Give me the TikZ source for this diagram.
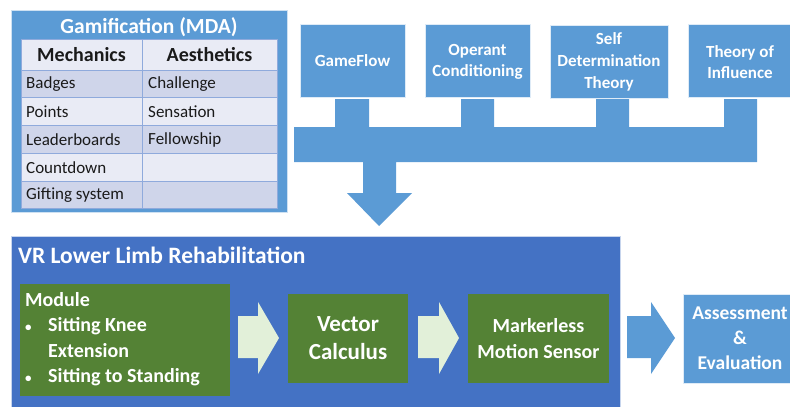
\documentclass[tikz,border=0pt]{standalone}
\usepackage{fontspec}
\setmainfont{Carlito}
\definecolor{lblue}{HTML}{5B9BD5}
\definecolor{dblue}{HTML}{4472C4}
\definecolor{vgreen}{HTML}{548235}
\definecolor{lgreen}{HTML}{E2F0D9}
\definecolor{rowdark}{HTML}{CFD5EA}
\definecolor{rowlight}{HTML}{E9EBF5}
\definecolor{gridc}{HTML}{8FAADC}
\definecolor{txt}{HTML}{1A1A1A}
\newcommand{\smallbul}{{\fontsize{13}{13}\selectfont\textbullet}}
\begin{document}
\begin{tikzpicture}[x=1pt,y=-1pt,
  bluebox/.style={draw=white!80!lblue,line width=0.6pt,fill=lblue,text=white,font=\bfseries\fontsize{17}{22}\selectfont,align=center,inner sep=0pt},
  greenbox/.style={fill=vgreen,text=white,font=\bfseries\fontsize{20}{26}\selectfont,align=center,inner sep=0pt},
  celltxt/.style={anchor=west,text=txt,font=\fontsize{17}{20}\selectfont,inner sep=0pt},
  headtxt/.style={text=txt,font=\bfseries\fontsize{20}{22}\selectfont,inner sep=0pt}
]
\useasboundingbox (0,0) rectangle (790,407);
\clip (0,0) rectangle (790,407);
% Gamification panel
\node[fill=lblue,draw=white!70!lblue,line width=0.6pt,minimum width=276pt,minimum height=202pt,inner sep=0pt] (gam) at (149,111) {};
\node[text=white,font=\bfseries\fontsize{21.5}{22}\selectfont,inner sep=0pt] (gamt) at (149,27) {Gamification (MDA)};
% table rows
\foreach \ya/\yb/\c in {39/70/rowlight,70/97/rowdark,97/125/rowlight,125/153/rowdark,153/181/rowlight,181/208/rowdark}{
  \fill[\c] (21,\ya) rectangle (277,\yb);
  \draw[gridc,line width=1pt] (21,\ya) rectangle (142,\yb);
  \draw[gridc,line width=1pt] (142,\ya) rectangle (277,\yb);
}
\node[headtxt] (h1) at (81.5,55) {Mechanics};
\node[headtxt] (h2) at (209.5,55) {Aesthetics};
\node[celltxt] (m1) at (26,84) {Badges};
\node[celltxt] (m2) at (26,112) {Points};
\node[celltxt] (m3) at (26,140) {Leaderboards};
\node[celltxt] (m4) at (26,167.5) {Countdown};
\node[celltxt] (m5) at (26,195) {Gifting system};
\node[celltxt] (a1) at (148,84) {Challenge};
\node[celltxt] (a2) at (148,112) {Sensation};
\node[celltxt] (a3) at (148,140) {Fellowship};
% Theory boxes
\node[bluebox,minimum width=105pt,minimum height=73pt] (gf) at (352.5,60.5) {GameFlow};
\node[bluebox,minimum width=105pt,minimum height=73pt] (oc) at (477.5,60.5) {};
\node[text=white,font=\bfseries\fontsize{17}{21}\selectfont,align=center,inner sep=0pt] (oct) at (477.5,62) {Operant\\Conditioning};
\node[bluebox,minimum width=118pt,minimum height=73pt] (sdt) at (609,61.5) {Self\\Determination\\Theory};
\node[bluebox,minimum width=104pt,minimum height=73pt] (ti) at (740,60.5) {};
\node[text=white,font=\bfseries\fontsize{17}{21}\selectfont,align=center,inner sep=0pt] (tit) at (740,62) {Theory of\\Influence};
% merging arrow
\fill[lblue] (294,127) -- (335,127) -- (335,99) -- (369,99) -- (369,127) -- (461,127) -- (461,99) -- (494,99) -- (494,127)
  -- (596,127) -- (596,99) -- (629,99) -- (629,127) -- (724,127) -- (724,99) -- (757,99) -- (757,162)
  -- (396,162) -- (396,193) -- (412,193) -- (379,226) -- (347,193) -- (363,193) -- (363,162) -- (294,162) -- cycle;
% VR panel
\node[fill=dblue,draw=white!70!dblue,line width=0.6pt,minimum width=609pt,minimum height=174pt,inner sep=0pt] (vr) at (315.5,323) {};
\node[anchor=west,text=white,font=\bfseries\fontsize{23.5}{26}\selectfont,inner sep=0pt] (vrt) at (18,255) {VR Lower Limb Rehabilitation};
\node[fill=vgreen,minimum width=210pt,minimum height=112pt,inner sep=0pt] (mod) at (125,340) {};
\node[anchor=north west,text=white,font=\bfseries\fontsize{20}{25.5}\selectfont,inner sep=0pt,align=left] (modt) at (25,288)
  {\begin{tabular}{@{}p{23pt}@{}l@{}}\multicolumn{2}{@{}l@{}}{Module}\\ \smallbul & Sitting Knee\\ & Extension\\ \smallbul & Sitting to Standing\end{tabular}};
\node[greenbox,font=\bfseries\fontsize{23}{28}\selectfont,minimum width=120pt,minimum height=89pt] (vc) at (348,338.5) {Vector\\Calculus};
\node[greenbox,minimum width=141pt,minimum height=89pt] (ms) at (538.5,338.5) {Markerless\\Motion Sensor};
\node[bluebox,font=\bfseries\fontsize{19.5}{25}\selectfont,minimum width=117pt,minimum height=89pt] (ae) at (741.5,338.5) {};
\node[text=white,font=\bfseries\fontsize{19.5}{25}\selectfont,align=center,inner sep=0pt] (aet) at (740,338.5) {Assessment\\\&\\Evaluation};
% block arrows
\fill[lgreen] (238,316) -- (258,316) -- (258,302) -- (279,338) -- (258,374) -- (258,358) -- (238,358) -- cycle;
\fill[lgreen] (418,316) -- (439,316) -- (439,302) -- (459,338) -- (439,374) -- (439,358) -- (418,358) -- cycle;
\fill[lblue] (627,316) -- (651,316) -- (651,302) -- (675,338) -- (651,374) -- (651,358) -- (627,358) -- cycle;
\end{tikzpicture}
\end{document}
